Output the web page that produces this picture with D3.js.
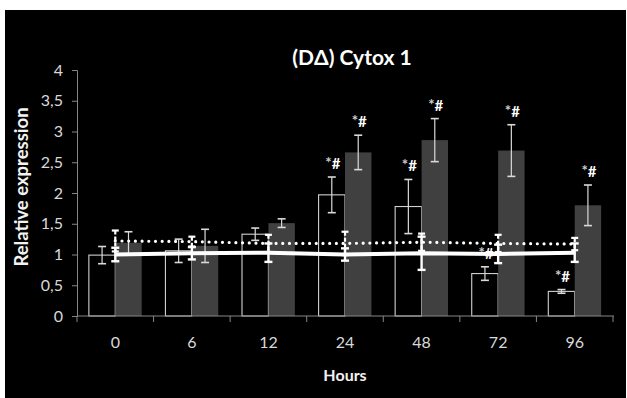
<!DOCTYPE html>
<html><head><meta charset="utf-8">
<script src="https://cdn.jsdelivr.net/npm/d3@7"></script>
<style>html,body{margin:0;padding:0;background:#fff;}svg{display:block;}</style>
</head><body>
<script>
const categories = ["0","6","12","24","48","72","96"];
const whiteVals = [0.99, 1.06, 1.33, 1.97, 1.78, 0.69, 0.40];
const whiteErr  = [0.14, 0.19, 0.10, 0.29, 0.44, 0.11, 0.03];
const greyVals  = [1.19, 1.14, 1.51, 2.66, 2.86, 2.69, 1.80];
const greyErr   = [0.18, 0.27, 0.07, 0.28, 0.35, 0.42, 0.33];
const solidVals = [1.00, 1.02, 1.03, 1.00, 1.02, 1.01, 1.03];
const solidErr  = [0.11, 0.10, 0.15, 0.10, 0.27, 0.15, 0.15];
const dotVals   = [1.22, 1.21, 1.18, 1.18, 1.20, 1.18, 1.17];
const dotErr    = [0.17, 0.08, 0.14, 0.19, 0.14, 0.14, 0.10];
const sigLabels = ["", "", "", "*#", "*#", "*#", "*#"];
const yTicks = [0, 0.5, 1, 1.5, 2, 2.5, 3, 3.5, 4];
const title = "(DΔ) Cytox 1";
const yTitle = "Relative expression";
const xTitle = "Hours";

const W = 627, H = 398;
const m = {left: 77, right: 613, top: 70, bottom: 316};
const font = "Lato, 'Open Sans', sans-serif";

const svg = d3.select("body").append("svg").attr("width", W).attr("height", H);
svg.append("rect").attr("x", 5).attr("y", 10).attr("width", 621).attr("height", 388).attr("fill", "#000");

const x = d3.scaleBand().domain(categories).range([m.left, m.right]).paddingInner(0.31).paddingOuter(0.155);
const y = d3.scaleLinear().domain([0, 4]).range([m.bottom, m.top]);
const bw = x.bandwidth() / 2;
const cx = c => x(c) + x.bandwidth() / 2;

// bars
svg.selectAll(".wb").data(categories).join("rect")
  .attr("x", c => x(c)).attr("y", (c, i) => y(whiteVals[i]))
  .attr("width", bw).attr("height", (c, i) => y(0) - y(whiteVals[i]))
  .attr("fill", "#000").attr("stroke", "#d0d0d0").attr("stroke-width", 1.1);
svg.selectAll(".gb").data(categories).join("rect")
  .attr("x", c => x(c) + bw).attr("y", (c, i) => y(greyVals[i]))
  .attr("width", bw).attr("height", (c, i) => y(0) - y(greyVals[i]))
  .attr("fill", "#404040");

function errBar(g, xc, v, e, opts) {
  const cap = opts.cap;
  g.append("line").attr("x1", xc).attr("x2", xc).attr("y1", y(v + e)).attr("y2", y(v - e))
    .attr("stroke", opts.color).attr("stroke-width", opts.w).attr("stroke-dasharray", opts.dash || null);
  [v + e, v - e].forEach(t => g.append("line").attr("x1", xc - cap).attr("x2", xc + cap)
    .attr("y1", y(t)).attr("y2", y(t)).attr("stroke", opts.color).attr("stroke-width", opts.capW || opts.w));
}
const eg = svg.append("g");
categories.forEach((c, i) => {
  errBar(eg, x(c) + bw / 2, whiteVals[i], whiteErr[i], {cap: 4, color: "#d9d9d9", w: 1.2, capW: 1.6});
  errBar(eg, x(c) + bw * 1.5, greyVals[i], greyErr[i], {cap: 4, color: "#d9d9d9", w: 1.2, capW: 1.6});
});

// axes
const yAxis = svg.append("g").attr("transform", `translate(${m.left},0)`)
  .call(d3.axisLeft(y).tickValues(yTicks).tickSize(5).tickPadding(9)
    .tickFormat(d => String(d).replace(".", ",")));
yAxis.select(".domain").attr("stroke", "#868686");
yAxis.selectAll(".tick line").attr("stroke", "#868686");
yAxis.selectAll("text").attr("fill", "#d9d9d9").style("font-family", font).style("font-size", "16px");

const xAxis = svg.append("g").attr("transform", `translate(0,${m.bottom})`)
  .call(d3.axisBottom(x).tickSize(0).tickPadding(21));
xAxis.select(".domain").attr("stroke", "#868686").attr("d", `M${m.left},0H${m.right + 1}`);
xAxis.selectAll("text").attr("fill", "#d9d9d9").style("font-family", font).style("font-size", "16px");
const bounds = d3.range(categories.length + 1).map(i => m.left + i * (m.right - m.left) / categories.length);
svg.append("g").selectAll("line").data(bounds).join("line")
  .attr("x1", d => d).attr("x2", d => d).attr("y1", m.bottom).attr("y2", m.bottom + 6)
  .attr("stroke", "#868686");

// lines
const lineGen = arr => d3.line().x((d, i) => cx(categories[i])).y(d => y(d))(arr);
svg.append("path").attr("d", lineGen(dotVals)).attr("fill", "none").attr("stroke", "#fff")
  .attr("stroke-width", 3.2).attr("stroke-linecap", "round").attr("stroke-dasharray", "0,6.7");
svg.append("path").attr("d", lineGen(solidVals)).attr("fill", "none").attr("stroke", "#fff")
  .attr("stroke-width", 4);
const lg = svg.append("g");
categories.forEach((c, i) => {
  errBar(lg, cx(c), dotVals[i], dotErr[i], {cap: 3.5, color: "#fff", w: 2.2, dash: "4,2"});
  errBar(lg, cx(c), solidVals[i], solidErr[i], {cap: 4, color: "#fff", w: 2.4});
});

// significance labels
const sg = svg.append("g").style("font-family", font).style("font-weight", "bold").style("font-size", "15px").attr("fill", "#fff").attr("text-anchor", "middle");
function sig(xp, yp, s) {
  const t = sg.append("text").attr("x", xp).attr("y", yp);
  t.append("tspan").attr("fill", "#cfcfcf").attr("dy", -1).text(s[0]);
  t.append("tspan").attr("dy", 1).text(s.slice(1));
}
categories.forEach((c, i) => {
  if (!sigLabels[i]) return;
  sig(x(c) + bw / 2 + 1, y(whiteVals[i] + whiteErr[i]) - 8, sigLabels[i]);
  sig(x(c) + bw * 1.5 + 1, y(greyVals[i] + greyErr[i]) - 8, sigLabels[i]);
});

// titles
svg.append("text").attr("x", 352).attr("y", 65).attr("text-anchor", "middle").attr("fill", "#fff")
  .style("font-family", font).style("font-weight", "bold").style("font-size", "21px").text(title);
svg.append("text").attr("transform", "translate(28,187) rotate(-90)").attr("text-anchor", "middle").attr("fill", "#f2f2f2")
  .style("font-family", font).style("font-weight", "bold").style("font-size", "18.5px").text(yTitle);
svg.append("text").attr("x", (m.left + m.right) / 2).attr("y", 381).attr("text-anchor", "middle").attr("fill", "#f2f2f2")
  .style("font-family", font).style("font-weight", "bold").style("font-size", "16px").text(xTitle);
</script>
</body></html>
